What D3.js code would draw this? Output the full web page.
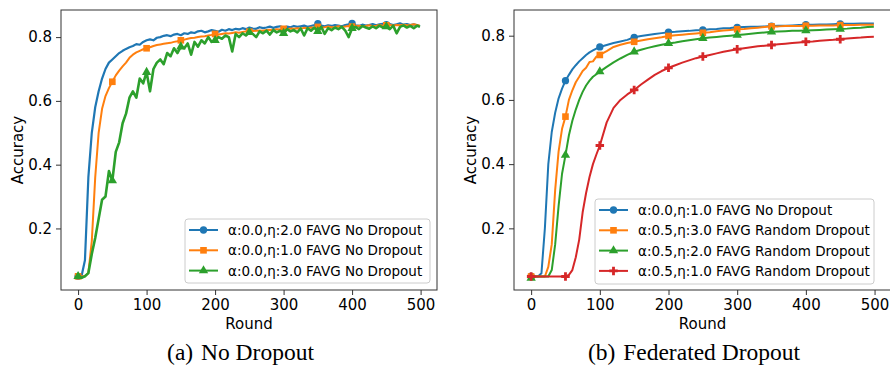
<!DOCTYPE html>
<html>
<head>
<meta charset="utf-8">
<script src="https://cdn.jsdelivr.net/npm/d3@7"></script>
<style>
  body { margin: 0; background: #fff; }
  svg { display: block; }
  text { font-family: "DejaVu Sans", sans-serif; fill: #000; }
  .cap { font-family: "Liberation Serif", "Times New Roman", serif; }
</style>
</head>
<body>
<div id="chart"></div>
<script>
// rounds (left panel every 5 rounds)
const roundsLeft = [0,5,10,15,20,25,30,35,40,45,50,55,60,65,70,75,80,85,90,95,
  100,105,110,115,120,125,130,135,140,145,150,155,160,165,170,175,180,185,190,195,
  200,205,210,215,220,225,230,235,240,245,250,255,260,265,270,275,280,285,290,295,
  300,305,310,315,320,325,330,335,340,345,350,355,360,365,370,375,380,385,390,395,
  400,405,410,415,420,425,430,435,440,445,450,455,460,465,470,475,480,485,490,495,499];

const leftBlue = [.05,.05,.10,.36,.50,.58,.63,.67,.70,.72,.73,.74,.75,.757,.763,.768,.772,.778,.776,.785,
  .79,.793,.79,.798,.80,.804,.806,.803,.808,.81,.806,.812,.81,.815,.813,.818,.82,.815,.818,.822,
  .82,.817,.823,.82,.825,.822,.826,.824,.828,.825,.83,.827,.826,.831,.828,.83,.833,.829,.832,.834,
  .83,.833,.831,.835,.832,.834,.836,.832,.835,.838,.842,.836,.834,.837,.835,.838,.836,.834,.838,.84,
  .843,.837,.835,.839,.836,.838,.841,.837,.84,.842,.839,.841,.838,.84,.843,.839,.841,.838,.84,.837,.833];

const leftOrange = [.05,.05,.05,.06,.16,.36,.50,.575,.615,.64,.66,.68,.695,.708,.72,.735,.745,.752,.757,.762,
  .765,.768,.772,.775,.777,.779,.781,.782,.785,.787,.79,.792,.795,.797,.798,.80,.802,.803,.805,.807,
  .81,.808,.81,.812,.811,.813,.815,.814,.816,.818,.817,.819,.82,.821,.82,.822,.823,.822,.825,.824,
  .826,.825,.827,.826,.828,.827,.829,.828,.83,.829,.832,.83,.831,.833,.831,.832,.834,.832,.833,.835,
  .833,.834,.836,.834,.835,.837,.835,.836,.838,.836,.837,.839,.836,.838,.837,.839,.837,.838,.84,.838,.836];

const leftGreen = [.05,.045,.05,.06,.12,.17,.23,.29,.30,.38,.35,.44,.47,.53,.56,.61,.63,.61,.67,.655,
  .69,.63,.70,.72,.73,.715,.75,.74,.765,.75,.77,.765,.78,.745,.785,.77,.79,.78,.80,.785,
  .79,.80,.795,.805,.80,.755,.81,.80,.812,.805,.815,.81,.80,.818,.812,.82,.808,.822,.815,.82,
  .812,.825,.818,.822,.815,.827,.805,.828,.82,.83,.818,.832,.81,.828,.822,.83,.825,.832,.82,.80,
  .828,.832,.825,.835,.83,.826,.834,.828,.836,.83,.833,.825,.836,.812,.832,.837,.83,.835,.828,.836,.832];

// right panel rounds
const roundsRight = [0,5,10,15,20,25,30,35,40,45,50,55,60,65,70,75,80,85,90,95,100,
  110,120,130,140,150,160,170,180,190,200,210,220,230,240,250,260,270,280,290,
  300,310,320,330,340,350,360,370,380,390,400,410,420,430,440,450,460,470,480,490,499];

const rightBlue = [.05,.05,.05,.06,.20,.40,.50,.56,.605,.635,.66,.678,.695,.708,.72,.73,.74,.748,.754,.76,.765,
  .771,.777,.782,.787,.795,.799,.802,.805,.808,.811,.812,.814,.815,.817,.818,.82,.821,.823,.824,
  .826,.827,.828,.828,.829,.83,.831,.831,.832,.833,.834,.834,.835,.835,.836,.837,.837,.837,.838,.838,.838];

const rightOrange = [.05,.05,.05,.05,.05,.08,.15,.32,.44,.51,.548,.60,.63,.655,.672,.69,.70,.718,.72,.735,.74,
  .752,.765,.772,.777,.781,.785,.789,.792,.795,.799,.801,.803,.805,.807,.809,.811,.814,.816,.818,
  .82,.821,.823,.825,.827,.829,.829,.83,.83,.83,.831,.831,.832,.832,.832,.833,.833,.833,.834,.834,.834];

const rightGreen = [.045,.05,.05,.05,.05,.05,.07,.15,.27,.37,.428,.49,.535,.57,.60,.625,.645,.66,.672,.68,.688,
  .703,.717,.729,.74,.75,.756,.762,.767,.772,.776,.779,.783,.786,.789,.792,.794,.796,.798,.80,
  .802,.804,.806,.808,.81,.812,.813,.814,.815,.815,.816,.817,.818,.819,.82,.821,.822,.824,.825,.827,.828];

const rightRed = [.05,.05,.05,.05,.05,.05,.05,.05,.05,.05,.05,.055,.07,.11,.165,.25,.31,.36,.40,.43,.458,
  .53,.575,.60,.617,.631,.648,.663,.678,.69,.70,.708,.716,.723,.73,.735,.74,.745,.75,.754,
  .758,.761,.764,.767,.769,.771,.773,.775,.777,.779,.781,.782,.784,.786,.787,.789,.791,.793,.794,.796,.797];

// rounds where a marker can be seen
const markerRounds = [0,50,100,150,200,250,300,350,400,450];
const leftBlueMarkers = [0,350,400,450];

const xTicks = [0,100,200,300,400,500];
const yTicks = [0.2,0.4,0.6,0.8];

const leftLabels = ["α:0.0,η:2.0 FAVG No Dropout", "α:0.0,η:1.0 FAVG No Dropout", "α:0.0,η:3.0 FAVG No Dropout"];
const rightLabels = ["α:0.0,η:1.0 FAVG No Dropout", "α:0.5,η:3.0 FAVG Random Dropout",
  "α:0.5,η:2.0 FAVG Random Dropout", "α:0.5,η:1.0 FAVG Random Dropout"];

const colors = ["#1f77b4", "#ff7f0e", "#2ca02c", "#d62728"];
const shapes = [d3.symbolCircle, d3.symbolSquare, d3.symbolTriangle, d3.symbolCross];
const shapeSize = [42, 44, 38, 40];

const svg = d3.select("#chart").append("svg")
  .attr("width", 890).attr("height", 365);

function drawPanel(p) {
  const x = d3.scaleLinear().domain([-24.95, 523.95]).range([p.left, p.right]);
  const y = d3.scaleLinear().domain(p.yDomain).range([p.bottom, p.top]);
  const g = svg.append("g");

  const clipId = "clip" + p.id;
  svg.append("clipPath").attr("id", clipId).append("rect")
    .attr("x", p.left).attr("y", p.top)
    .attr("width", p.right - p.left).attr("height", p.bottom - p.top);

  const plot = g.append("g").attr("clip-path", `url(#${clipId})`);
  const line = d3.line().x(d => x(d.r)).y(d => y(d.v));

  p.series.forEach((vals, i) => {
    const pts = p.rounds.map((r, k) => ({ r: r, v: vals[k] }));
    plot.append("path")
      .attr("d", line(pts))
      .attr("fill", "none")
      .attr("stroke", colors[i])
      .attr("stroke-width", p.lw[i])
      .attr("stroke-linejoin", "round");
    const mk = pts.filter(d => p.markers[i].includes(d.r));
    plot.selectAll(null).data(mk).enter().append("path")
      .attr("d", d3.symbol().type(shapes[i]).size(shapeSize[i]))
      .attr("transform", d => `translate(${x(d.r)},${y(d.v)})`)
      .attr("fill", colors[i]);
  });

  // axes
  const xa = g.append("g").attr("transform", `translate(0,${p.bottom})`)
    .call(d3.axisBottom(x).tickValues(xTicks).tickSize(5).tickPadding(4));
  const ya = g.append("g").attr("transform", `translate(${p.left},0)`)
    .call(d3.axisLeft(y).tickValues(yTicks).tickSize(5).tickPadding(4).tickFormat(d3.format(".1f")));
  [xa, ya].forEach(a => {
    a.select(".domain").remove();
    a.selectAll("line").attr("stroke", "#333");
    a.selectAll("text").style("font-size", "15px").attr("font-family", "DejaVu Sans");
  });

  g.append("rect")
    .attr("x", p.left).attr("y", p.top)
    .attr("width", p.right - p.left).attr("height", p.bottom - p.top)
    .attr("fill", "none").attr("stroke", "#333").attr("stroke-width", 1);

  g.append("text")
    .attr("x", (p.left + p.plotRight) / 2).attr("y", 329)
    .attr("text-anchor", "middle").style("font-size", "15px").text("Round");
  g.append("text")
    .attr("transform", `translate(${p.ylabX},150) rotate(-90)`)
    .attr("text-anchor", "middle").attr("dominant-baseline", "central")
    .style("font-size", "15px").text("Accuracy");

  // legend
  const lg = g.append("g");
  lg.append("rect")
    .attr("x", p.leg.x).attr("y", p.leg.y)
    .attr("width", p.leg.w).attr("height", p.leg.h)
    .attr("rx", 3).attr("fill", "#fff").attr("fill-opacity", 0.8)
    .attr("stroke", "#ccc");
  p.labels.forEach((t, i) => {
    const cy = p.leg.y + 11 + i * 20.3;
    lg.append("line")
      .attr("x1", p.leg.x + 4).attr("x2", p.leg.x + 33)
      .attr("y1", cy).attr("y2", cy)
      .attr("stroke", colors[i]).attr("stroke-width", 2);
    lg.append("path")
      .attr("d", d3.symbol().type(shapes[i]).size(shapeSize[i]))
      .attr("transform", `translate(${p.leg.x + 18.5},${cy})`)
      .attr("fill", colors[i]);
    lg.append("text")
      .attr("x", p.leg.x + 43).attr("y", cy)
      .attr("dominant-baseline", "central")
      .style("font-size", "13.5px").text(t);
  });

  g.append("text").attr("class", "cap")
    .attr("x", p.capX).attr("y", 360)
    .attr("text-anchor", "middle").style("font-size", "23.5px")
    .text(p.caption);
}

drawPanel({
  id: "a", left: 61, right: 437, plotRight: 437, top: 10, bottom: 290,
  yDomain: [0.007, 0.885], rounds: roundsLeft, lw: [2.2, 2, 2.6],
  series: [leftBlue, leftOrange, leftGreen], labels: leftLabels,
  markers: [leftBlueMarkers, markerRounds, markerRounds],
  leg: { x: 185, y: 219, w: 245, h: 64 }, ylabX: 18,
  capX: 240.5, caption: "(a)\u2004No Dropout"
});

drawPanel({
  id: "b", left: 514, right: 891, plotRight: 891, top: 10, bottom: 290,
  yDomain: [0.008, 0.88], rounds: roundsRight, lw: [2, 2, 2, 2],
  series: [rightBlue, rightOrange, rightGreen, rightRed], labels: rightLabels,
  markers: [markerRounds, markerRounds, markerRounds, markerRounds],
  leg: { x: 595, y: 199, w: 279, h: 85 }, ylabX: 471,
  capX: 694, caption: "(b)\u2004Federated Dropout"
});
</script>
</body>
</html>
